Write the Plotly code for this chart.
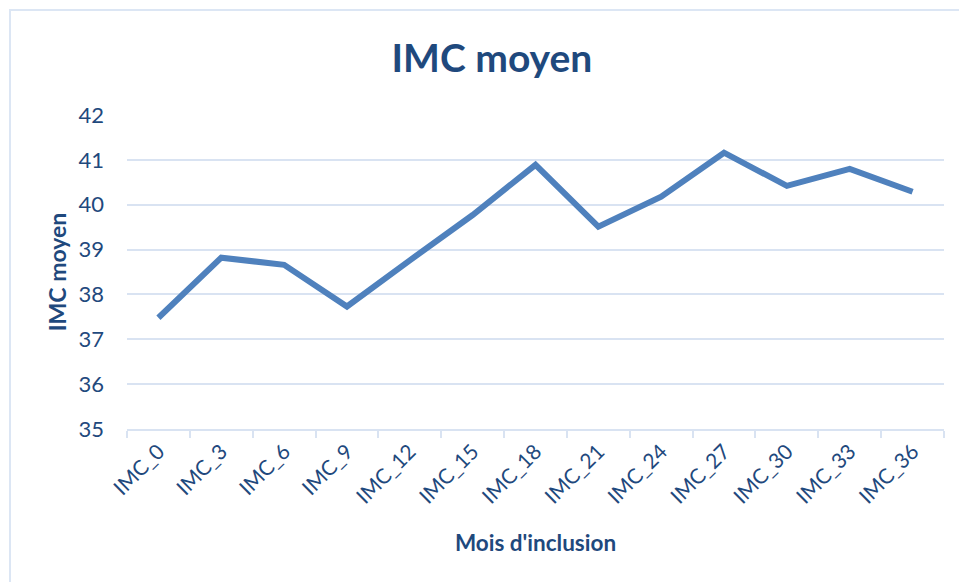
import plotly.graph_objects as go

mois = ["IMC_0", "IMC_3", "IMC_6", "IMC_9", "IMC_12", "IMC_15", "IMC_18",
        "IMC_21", "IMC_24", "IMC_27", "IMC_30", "IMC_33", "IMC_36"]
imc = [37.48, 38.82, 38.66, 37.73, 38.76, 39.77, 40.89,
       39.51, 40.18, 41.16, 40.42, 40.80, 40.29]
y_ticks = [35, 36, 37, 38, 39, 40, 41, 42]

txt = "#1F497D"
grid = "#D9E3F2"
font = "Lato"

fig = go.Figure()
fig.add_trace(go.Scatter(x=mois, y=imc, mode="lines",
                         line=dict(color="#4F81BD", width=6),
                         hoverinfo="x+y"))

fig.update_layout(
    width=959, height=582,
    margin=dict(l=127, r=15, t=115, b=153, autoexpand=False),
    paper_bgcolor="white", plot_bgcolor="white",
    showlegend=False,
    title=dict(text="<b>IMC moyen</b>", x=0.513, xanchor="center",
               y=0.9, yanchor="middle",
               font=dict(family=font, size=39, color=txt)),
    font=dict(family=font, color=txt),
)
fig.update_xaxes(
    type="category", range=[-0.5, len(mois) - 0.5],
    tickangle=-45, tickson="boundaries", automargin=False,
    ticks="outside", ticklen=7, tickcolor=grid, tickwidth=2,
    showline=True, linecolor=grid, linewidth=2,
    showgrid=False,
    tickfont=dict(family=font, size=21, color=txt),
    title=dict(text="<b>Mois d'inclusion</b>", standoff=28,
               font=dict(family=font, size=22.5, color=txt)),
)
fig.update_yaxes(
    range=[35, 42], tickvals=y_ticks, automargin=False,
    showgrid=True, gridcolor=grid, gridwidth=2,
    zeroline=False, showline=False, ticks="",
    ticklabelstandoff=22,
    tickfont=dict(family=font, size=22, color=txt),
    title=dict(text="<b>IMC moyen</b>", standoff=5,
               font=dict(family=font, size=23, color=txt)),
)
# light chart border, as in the reference
fig.add_shape(type="rect", xref="paper", yref="paper",
              x0=-0.1432, x1=1.03, y0=-0.52, y1=1.334,
              line=dict(color="#DCE6F4", width=2), layer="below")

fig.write_html("out.html", config={"displayModeBar": False},
               post_script="document.body.style.margin='0';")
